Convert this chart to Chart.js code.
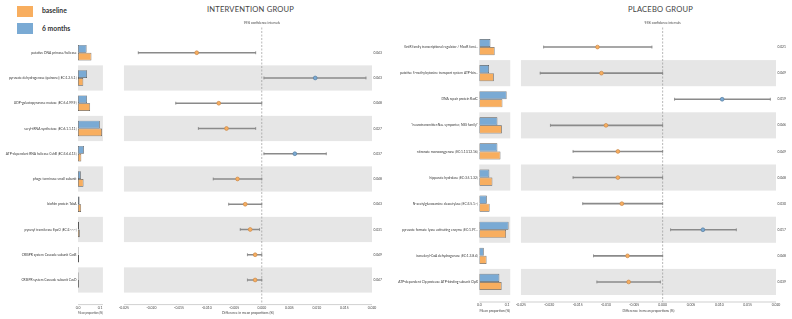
<!DOCTYPE html>
<html>
<head>
<meta charset="utf-8">
<script src="https://cdn.jsdelivr.net/npm/chart.js@4.4.1/dist/chart.umd.min.js"></script>
<style>
  body { margin: 0; width: 792px; height: 319px; position: relative; background: #fff; overflow: hidden; font-family: Lato, "Open Sans", sans-serif; }
  canvas { position: absolute; top: 0; }
  .title { position: absolute; top: 5.5px; font-size: 7.6px; line-height: 1; color: #444; transform: translateX(-50%); white-space: nowrap; letter-spacing: 0.2px; }
  .ci-note { position: absolute; top: 22.2px; font-size: 3.3px; line-height: 1; color: #444; transform: translateX(-50%); white-space: nowrap; }
  .legend-box { position: absolute; left: 17px; width: 16px; height: 11px; }
  .legend-text { position: absolute; left: 42px; font-size: 6.8px; line-height: 1; font-weight: bold; color: #333; }
</style>
</head>
<body>
<div class="legend-box" style="top:6px; background:#f8ae5f;"></div>
<div class="legend-text" style="top:7px;">baseline</div>
<div class="legend-box" style="top:22.5px; background:#7aaad4;"></div>
<div class="legend-text" style="top:24.5px;">6 months</div>
<div class="title" style="left:250.5px;">INTERVENTION GROUP</div>
<div class="title" style="left:660.5px;">PLACEBO GROUP</div>
<script>
// intervention group
const interventionLabels = [
    'putative DNA primase/helicase',
    'pyruvate dehydrogenase (quinone) [EC:1.2.5.1]',
    'UDP-galactopyranose mutase [EC:5.4.99.9]',
    'seryl-tRNA synthetase [EC:6.1.1.11]',
    'ATP-dependent RNA helicase CshB [EC:3.6.4.13]',
    'phage terminase small subunit',
    'biofilm protein TabA',
    'pyruvyl transferase EpsO [EC:2.-.-.-]',
    'CRISPR system Cascade subunit CasB',
    'CRISPR system Cascade subunit CasD'
];
const interventionBaseline = [0.061, 0.024, 0.055, 0.109, 0.015, 0.025, 0.014, 0.008, 0.0045, 0.004];
const interventionSixMonths = [0.039, 0.041, 0.041, 0.099, 0.027, 0.013, 0.007, 0.0045, 0.0025, 0.0025];
const interventionDiff = [-0.0118, 0.0097, -0.0078, -0.0064, 0.0060, -0.0044, -0.0030, -0.0021, -0.0012, -0.0012];
const interventionLower = [-0.0224, 0.0004, -0.0156, -0.0115, 0.0004, -0.0088, -0.0060, -0.0039, -0.0026, -0.0026];
const interventionUpper = [-0.0011, 0.0189, 0.0, -0.0011, 0.0117, 0.0, 0.0, -0.0004, 0.0, 0.0];
const interventionPValues = ['0.043', '0.043', '0.048', '0.027', '0.037', '0.048', '0.043', '0.031', '0.049', '0.047'];

// placebo group
const placeboLabels = [
    'GntR family transcriptional regulator / MocR fami...',
    'putative 5-methylcytosine transport system ATP-bin...',
    'DNA repair protein RadC',
    '"neurotransmitter:Na+ symporter, NSS family"',
    'nitronate monooxygenase [EC:1.13.12.16]',
    'hippurate hydrolase [EC:3.5.1.32]',
    'N-acetylglucosamine deacetylase [EC:3.5.1.-]',
    'pyruvate formate lyase activating enzyme [EC:1.97...',
    'isovaleryl-CoA dehydrogenase [EC:1.3.8.4]',
    'ATP-dependent Clp protease ATP-binding subunit ClpX'
];
const placeboBaseline = [0.055, 0.052, 0.083, 0.081, 0.076, 0.047, 0.037, 0.096, 0.026, 0.080];
const placeboSixMonths = [0.040, 0.035, 0.098, 0.065, 0.065, 0.036, 0.027, 0.105, 0.016, 0.072];
const placeboDiff = [-0.0115, -0.0108, 0.0105, -0.0100, -0.0079, -0.0079, -0.0072, 0.0071, -0.0062, -0.0060];
const placeboLower = [-0.0210, -0.0216, 0.0021, -0.0198, -0.0158, -0.0158, -0.0141, 0.0014, -0.0122, -0.0116];
const placeboUpper = [-0.0019, 0.0, 0.0190, 0.0, 0.0, 0.0, 0.0, 0.0130, 0.0, -0.0004];
const placeboPValues = ['0.021', '0.049', '0.019', '0.046', '0.049', '0.048', '0.030', '0.017', '0.048', '0.039'];

// tick labels
const meanTicks = [0, 0.1];
const diffTicks = [-0.025, -0.020, -0.015, -0.010, -0.005, 0.000, 0.005, 0.010, 0.015, 0.020];

const ORANGE = '#f8ae5f';
const BLUE = '#7aaad4';
const FONT = 'Lato, "Open Sans", sans-serif';

// grey bands behind every second row
const bandPlugin = {
    id: 'bands',
    beforeDatasetsDraw(chart) {
        const {ctx, chartArea} = chart;
        const y = chart.scales.y;
        const step = y.getPixelForValue(1) - y.getPixelForValue(0);
        ctx.save();
        ctx.fillStyle = '#e6e6e6';
        for (let i = 1; i < y.getLabels().length; i += 2) {
            const mid = y.getPixelForValue(i);
            ctx.fillRect(chartArea.left, mid - step / 2, chartArea.right - chartArea.left, step);
        }
        ctx.restore();
    }
};

// offset bottom spine
const spinePlugin = {
    id: 'spine',
    afterDraw(chart, args, opts) {
        const {ctx, chartArea} = chart;
        const yy = chartArea.bottom + opts.gap;
        ctx.save();
        ctx.strokeStyle = '#b0b0b0';
        ctx.lineWidth = 0.6;
        ctx.beginPath();
        ctx.moveTo(chartArea.left, yy);
        ctx.lineTo(chartArea.right, yy);
        ctx.stroke();
        ctx.restore();
    }
};

// dashed line at zero difference
const zeroLinePlugin = {
    id: 'zeroLine',
    beforeDatasetsDraw(chart, args, opts) {
        const {ctx, chartArea} = chart;
        const x0 = chart.scales.x.getPixelForValue(0);
        ctx.save();
        ctx.strokeStyle = '#9a9a9a';
        ctx.lineWidth = 0.7;
        ctx.setLineDash([2, 1.5]);
        ctx.beginPath();
        ctx.moveTo(x0, opts.top);
        ctx.lineTo(x0, chartArea.bottom + opts.gap);
        ctx.stroke();
        ctx.restore();
    }
};

function addCanvas(left, width) {
    const c = document.createElement('canvas');
    c.width = width;
    c.height = 319;
    c.style.left = left + 'px';
    document.body.appendChild(c);
    return c;
}

function makePanel(p) {
    const axisHeight = p.scaleBottom - p.bottom;
    const padBottom = 319 - p.scaleBottom;
    const tickFont = {family: FONT, size: 3.4};

    // bars: mean proportions
    const barCanvas = addCanvas(p.barLeft, p.barWidth);
    new Chart(barCanvas, {
        type: 'bar',
        data: {
            labels: p.labels,
            datasets: [
                {label: '6 months', data: p.sixMonths, backgroundColor: BLUE},
                {label: 'baseline', data: p.baseline, backgroundColor: ORANGE}
            ]
        },
        options: {
            indexAxis: 'y',
            responsive: false,
            animation: false,
            events: [],
            datasets: {
                bar: {categoryPercentage: 0.62, barPercentage: 1, borderColor: '#555', borderWidth: 0.7, borderSkipped: false}
            },
            layout: {padding: {top: p.top, bottom: padBottom, left: 0, right: p.barPadRight}},
            plugins: {
                legend: {display: false},
                tooltip: {enabled: false},
                spine: {gap: p.tickGap - 1}
            },
            scales: {
                x: {
                    min: 0,
                    max: p.meanMax,
                    grid: {display: false, drawTicks: false},
                    border: {display: false},
                    afterBuildTicks: s => { s.ticks = meanTicks.map(v => ({value: v})); },
                    ticks: {font: tickFont, color: '#444', padding: p.tickGap, maxRotation: 0, callback: v => v.toFixed(1)},
                    title: {display: true, text: 'Mean proportion (%)', font: tickFont, color: '#444', padding: {top: 0, bottom: 0}},
                    afterFit: s => { s.height = axisHeight; }
                },
                y: {
                    grid: {display: false, drawTicks: false},
                    border: {display: false},
                    ticks: {font: {family: FONT, size: 3.3}, color: '#333', padding: 1.5, autoSkip: false},
                    afterFit: s => { s.width = p.barAxisWidth; }
                }
            }
        },
        plugins: [bandPlugin, spinePlugin]
    });

    // confidence intervals of the difference
    const ciCanvas = addCanvas(p.ciLeft, p.ciWidth);
    const caps = p.lower.map((v, i) => ({x: v, y: p.labels[i]}))
        .concat(p.upper.map((v, i) => ({x: v, y: p.labels[i]})));
    const ciChart = new Chart(ciCanvas, {
        type: 'bar',
        data: {
            labels: p.labels,
            datasets: [
                {
                    type: 'bar',
                    data: p.lower.map((lo, i) => [lo, p.upper[i]]),
                    backgroundColor: '#8a8a8a',
                    barThickness: 0.9,
                    grouped: false,
                    order: 3
                },
                {
                    type: 'scatter',
                    data: caps,
                    pointStyle: 'line',
                    rotation: 90,
                    radius: 1.5,
                    borderColor: '#8a8a8a',
                    borderWidth: 0.8,
                    order: 2
                },
                {
                    type: 'scatter',
                    data: p.diff.map((d, i) => ({x: d, y: p.labels[i]})),
                    pointStyle: 'circle',
                    radius: 1.9,
                    backgroundColor: p.diff.map(d => d < 0 ? ORANGE : BLUE),
                    borderColor: p.diff.map(d => d < 0 ? '#c98a4e' : '#5a7e9e'),
                    borderWidth: 0.7,
                    order: 1
                }
            ]
        },
        options: {
            indexAxis: 'y',
            responsive: false,
            animation: false,
            events: [],
            layout: {padding: {top: p.top, bottom: padBottom, left: p.ciPadLeft, right: 0}},
            plugins: {
                legend: {display: false},
                tooltip: {enabled: false},
                spine: {gap: p.tickGap - 1},
                zeroLine: {top: 27.5, gap: p.tickGap - 1}
            },
            scales: {
                x: {
                    min: diffTicks[0],
                    max: diffTicks[diffTicks.length - 1],
                    grid: {display: false, drawTicks: false},
                    border: {display: false},
                    afterBuildTicks: s => { s.ticks = diffTicks.map(v => ({value: v})); },
                    ticks: {font: tickFont, color: '#444', padding: p.tickGap, maxRotation: 0,
                        callback: v => (Math.abs(v) < 1e-9 ? 0 : v).toFixed(3)},
                    title: {display: true, text: 'Difference in mean proportions (%)', font: tickFont, color: '#444', padding: {top: 0, bottom: 0}},
                    afterFit: s => { s.height = axisHeight; }
                },
                y: {display: false, offset: true},
                y2: {
                    type: 'category',
                    labels: p.pValues,
                    position: 'right',
                    offset: true,
                    grid: {display: false, drawTicks: false},
                    border: {display: false},
                    ticks: {font: {family: FONT, size: 3.3}, color: '#444', padding: 1.5, autoSkip: false},
                    afterFit: s => { s.width = p.ciAxisWidth; }
                }
            }
        },
        plugins: [bandPlugin, zeroLinePlugin, spinePlugin]
    });

    const note = document.createElement('div');
    note.className = 'ci-note';
    note.textContent = '95% confidence intervals';
    note.style.left = (p.ciLeft + ciChart.scales.x.getPixelForValue(0)) + 'px';
    document.body.appendChild(note);
}

makePanel({
    labels: interventionLabels,
    baseline: interventionBaseline,
    sixMonths: interventionSixMonths,
    diff: interventionDiff,
    lower: interventionLower,
    upper: interventionUpper,
    pValues: interventionPValues,
    meanMax: 0.113,
    top: 40.1, bottom: 292.6, scaleBottom: 314.7, tickGap: 13,
    barLeft: 0, barWidth: 116, barAxisWidth: 78, barPadRight: 5.3,
    ciLeft: 106, ciWidth: 290, ciPadLeft: 12, ciAxisWidth: 24
});

makePanel({
    labels: placeboLabels,
    baseline: placeboBaseline,
    sixMonths: placeboSixMonths,
    diff: placeboDiff,
    lower: placeboLower,
    upper: placeboUpper,
    pValues: placeboPValues,
    meanMax: 0.111,
    top: 34, bottom: 295, scaleBottom: 312.5, tickGap: 8,
    barLeft: 395, barWidth: 123, barAxisWidth: 84.3, barPadRight: 4.7,
    ciLeft: 508, ciWidth: 290, ciPadLeft: 12, ciAxisWidth: 22
});
</script>
</body>
</html>
